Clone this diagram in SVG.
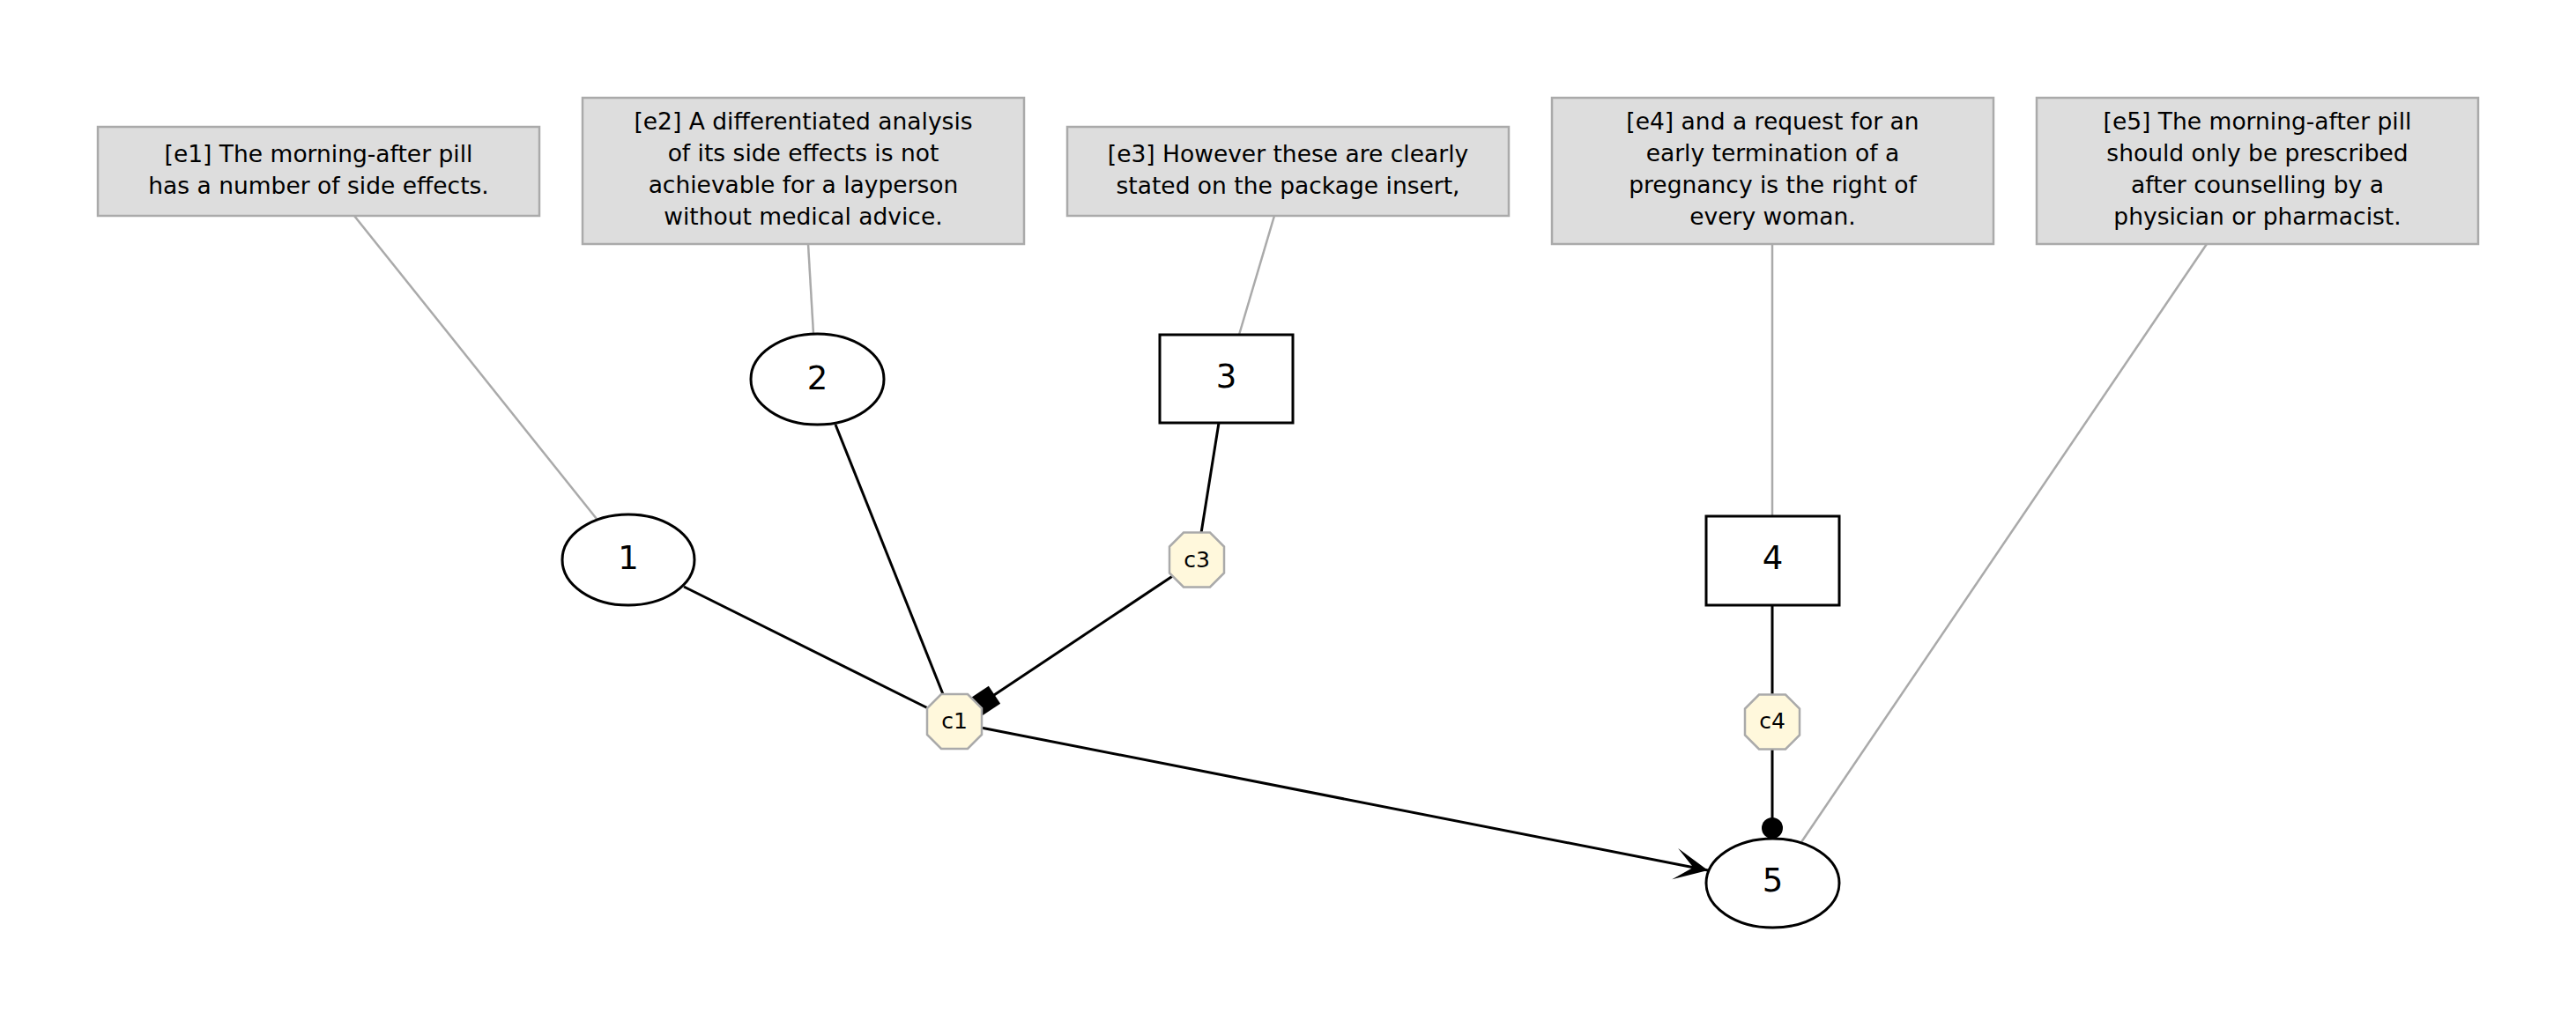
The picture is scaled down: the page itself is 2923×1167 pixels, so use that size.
<svg xmlns="http://www.w3.org/2000/svg" width="2923" height="1167" viewBox="0 0 2923 1167">
<style>
.ebox{fill:#dddddd;stroke:#aaaaaa;stroke-width:2.5}
.etxt{font-family:"DejaVu Sans",sans-serif;font-size:26.5px;fill:#000;text-anchor:middle}
.node{fill:#ffffff;stroke:#000;stroke-width:3}
.ntxt{font-family:"DejaVu Sans",sans-serif;font-size:37px;fill:#000;text-anchor:middle}
.oct{fill:#fff8dc;stroke:#aaaaaa;stroke-width:2.5}
.ctxt{font-family:"DejaVu Sans",sans-serif;font-size:25px;fill:#000;text-anchor:middle}
.gl{stroke:#aaaaaa;stroke-width:2.5;fill:none}
.bl{stroke:#000;stroke-width:3;fill:none}
</style>
<defs>
<marker id="vee" markerUnits="userSpaceOnUse" orient="auto" refX="0" refY="0" markerWidth="40" markerHeight="40" overflow="visible"><path d="M0,0 L-38,-18 L-17,0 L-38,18 Z" fill="#000"/></marker>
<marker id="boxm" markerUnits="userSpaceOnUse" orient="auto" refX="0" refY="0" markerWidth="30" markerHeight="30" overflow="visible"><path d="M-24,-12 L0,-12 L0,12 L-24,12 Z" fill="#000"/></marker>
<marker id="dot" markerUnits="userSpaceOnUse" orient="auto" refX="0" refY="0" markerWidth="30" markerHeight="30" overflow="visible"><circle cx="-12" cy="0" r="12" fill="#000"/></marker>
</defs>
<rect width="2923" height="1167" fill="#ffffff"/>
<g id="connectors">
<line class="gl" x1="402" y1="245" x2="677" y2="589"/>
<line class="gl" x1="917" y1="277" x2="923" y2="379"/>
<line class="gl" x1="1446" y1="245" x2="1406" y2="380"/>
<line class="gl" x1="2011" y1="277" x2="2011" y2="586"/>
<line class="gl" x1="2504" y1="277" x2="2044" y2="956"/>
<line class="bl" x1="776" y1="666" x2="1053" y2="804"/>
<line class="bl" x1="948" y1="482" x2="1070" y2="788"/>
<line class="bl" x1="1383" y1="480" x2="1363" y2="605"/>
<line class="bl" x1="1332" y1="653" x2="1108.5" y2="802" marker-end="url(#boxm)"/>
<line class="bl" x1="1113" y1="826" x2="1938" y2="988" marker-end="url(#vee)"/>
<line class="bl" x1="2011" y1="687" x2="2011" y2="788.5"/>
<line class="bl" x1="2011" y1="850.5" x2="2011" y2="952" marker-end="url(#dot)"/>
</g>
<g id="e1"><rect class="ebox" x="111" y="144" width="501" height="101"/><text class="etxt" x="361.5" y="183.5">[e1] The morning-after pill</text><text class="etxt" x="361.5" y="219.5">has a number of side effects.</text></g>
<g id="e2"><rect class="ebox" x="661" y="111" width="501" height="166"/><text class="etxt" x="911.5" y="147">[e2] A differentiated analysis</text><text class="etxt" x="911.5" y="183">of its side effects is not</text><text class="etxt" x="911.5" y="219">achievable for a layperson</text><text class="etxt" x="911.5" y="255">without medical advice.</text></g>
<g id="e3"><rect class="ebox" x="1211" y="144" width="501" height="101"/><text class="etxt" x="1461.5" y="183.5">[e3] However these are clearly</text><text class="etxt" x="1461.5" y="219.5">stated on the package insert,</text></g>
<g id="e4"><rect class="ebox" x="1761" y="111" width="501" height="166"/><text class="etxt" x="2011.5" y="147">[e4] and a request for an</text><text class="etxt" x="2011.5" y="183">early termination of a</text><text class="etxt" x="2011.5" y="219">pregnancy is the right of</text><text class="etxt" x="2011.5" y="255">every woman.</text></g>
<g id="e5"><rect class="ebox" x="2311" y="111" width="501" height="166"/><text class="etxt" x="2561.5" y="147">[e5] The morning-after pill</text><text class="etxt" x="2561.5" y="183">should only be prescribed</text><text class="etxt" x="2561.5" y="219">after counselling by a</text><text class="etxt" x="2561.5" y="255">physician or pharmacist.</text></g>
<g id="n1"><ellipse class="node" cx="713" cy="635.5" rx="75" ry="51.5"/><text class="ntxt" x="713" y="646">1</text></g>
<g id="n2"><ellipse class="node" cx="927.5" cy="430.5" rx="75.5" ry="51.5"/><text class="ntxt" x="927.5" y="441.5">2</text></g>
<g id="n3"><rect class="node" x="1316" y="380" width="151" height="100"/><text class="ntxt" x="1391.5" y="440">3</text></g>
<g id="n4"><rect class="node" x="1936" y="586" width="151" height="101"/><text class="ntxt" x="2011.5" y="646">4</text></g>
<g id="n5"><ellipse class="node" cx="2011.5" cy="1002.5" rx="75.5" ry="50.5"/><text class="ntxt" x="2011.5" y="1012">5</text></g>
<g id="c1"><polygon class="oct" points="1068,788 1098,788 1114,804 1114,834 1098,850 1068,850 1052,834 1052,804"/><text class="ctxt" x="1083" y="827">c1</text></g>
<g id="c3"><polygon class="oct" points="1343,604.5 1373,604.5 1389,620.5 1389,650.5 1373,666.5 1343,666.5 1327,650.5 1327,620.5"/><text class="ctxt" x="1358" y="644">c3</text></g>
<g id="c4"><polygon class="oct" points="1996,788.5 2026,788.5 2042,804.5 2042,834.5 2026,850.5 1996,850.5 1980,834.5 1980,804.5"/><text class="ctxt" x="2011" y="827">c4</text></g>
</svg>
